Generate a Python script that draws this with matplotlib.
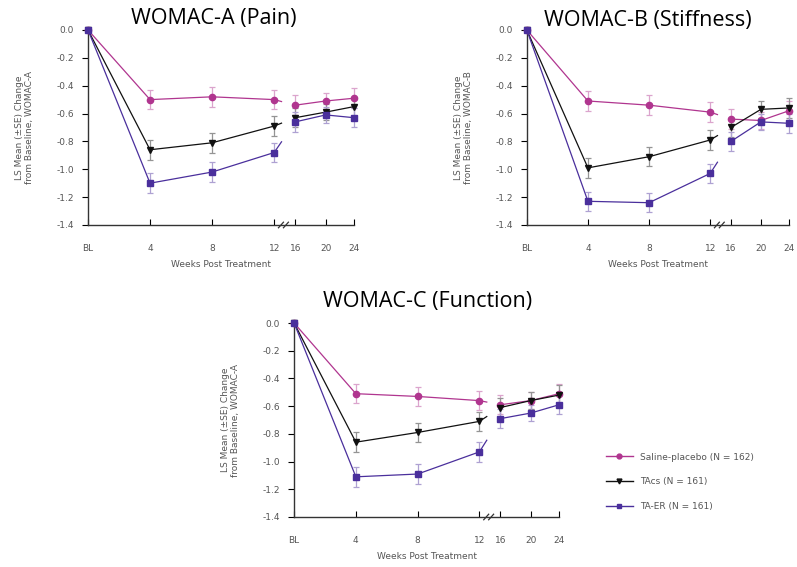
import numpy as np
import matplotlib.pyplot as plt
import matplotlib.colors as mcolors
from matplotlib.lines import Line2D

# ______________________ datos ______________________

weeks = ['BL', '4', '8', '12', '16', '20', '24']
# posicion en el eje (eje roto entre 12 y 16)
xpos = [0, 1, 2, 3, 3.34, 3.83, 4.29]

series = ['Saline-placebo (N = 162)', 'TAcs (N = 161)', 'TA-ER (N = 161)']

pain_placebo = [0.0, -0.50, -0.48, -0.50, -0.54, -0.51, -0.49]
pain_tacs = [0.0, -0.86, -0.81, -0.69, -0.63, -0.59, -0.55]
pain_taer = [0.0, -1.10, -1.02, -0.88, -0.66, -0.61, -0.63]

stiff_placebo = [0.0, -0.51, -0.54, -0.59, -0.64, -0.65, -0.58]
stiff_tacs = [0.0, -0.99, -0.91, -0.79, -0.70, -0.57, -0.56]
stiff_taer = [0.0, -1.23, -1.24, -1.03, -0.80, -0.66, -0.67]

func_placebo = [0.0, -0.51, -0.53, -0.56, -0.59, -0.56, -0.51]
func_tacs = [0.0, -0.86, -0.79, -0.71, -0.61, -0.56, -0.52]
func_taer = [0.0, -1.11, -1.09, -0.93, -0.69, -0.65, -0.59]

se = [0.0, 0.07, 0.07, 0.07, 0.07, 0.06, 0.07]

yticks = [0.0, -0.2, -0.4, -0.6, -0.8, -1.0, -1.2, -1.4]
ytick_labels = ['0.0', '-0.2', '-0.4', '-0.6', '-0.8', '-1.0', '-1.2', '-1.4']

colores = ['#b0358f', '#111111', '#4a2f9c']
marcadores = ['o', 'v', 's']
gris = '#555555'


def aclarar(c, f=0.55):
    r, g, b = mcolors.to_rgb(c)
    return (r + (1 - r) * f, g + (1 - g) * f, b + (1 - b) * f)


def graficar_panel(ax, datos, ylab):
    for vals, c, m in zip(datos, colores, marcadores):
        x = np.array(xpos)
        y = np.array(vals)
        e = np.array(se)
        # tramo 1: BL-12, tramo 2: 16-24
        for sl in (slice(0, 4), slice(4, 7)):
            ax.errorbar(x[sl], y[sl], yerr=e[sl], fmt='none', ecolor=aclarar(c),
                        elinewidth=0.9, capsize=2.5, capthick=0.9,
                        clip_on=False, zorder=2)
            ax.plot(x[sl], y[sl], color=c, marker=m, ms=4.5, lw=0.9,
                    clip_on=False, zorder=3)
        # pequeno tramo hacia el corte
        f = 0.35
        ax.plot([x[3], x[3] + f * (x[4] - x[3])], [y[3], y[3] + f * (y[4] - y[3])],
                color=c, lw=0.9, clip_on=False)
    ax.set_ylim(-1.4, 0.0)
    ax.set_xlim(0, xpos[-1])
    ax.set_yticks(yticks)
    ax.set_yticklabels(ytick_labels)
    ax.set_xticks(xpos)
    ax.set_xticklabels(weeks)
    for s in ['top', 'right']:
        ax.spines[s].set_visible(False)
    for s in ['left', 'bottom']:
        ax.spines[s].set_color('#333333')
        ax.spines[s].set_linewidth(1.0)
    ax.tick_params(axis='y', direction='out', length=4, labelsize=6.5,
                   labelcolor=gris, pad=6)
    ax.tick_params(axis='x', direction='in', length=4, labelsize=6.5,
                   labelcolor=gris, pad=14)
    ax.set_xlabel('Weeks Post Treatment', fontsize=6.5, color=gris, labelpad=5)
    ax.set_ylabel('LS Mean (\u00b1SE) Change\nfrom Baseline, ' + ylab,
                  fontsize=6.5, color=gris, labelpad=16)
    # marca de eje roto
    xb = 3.15
    for d in (-0.04, 0.04):
        ax.plot([xb + d - 0.04, xb + d + 0.04], [-1.42, -1.38], color='#333333',
                lw=0.9, clip_on=False, zorder=4)


fig = plt.figure(figsize=(7.97, 5.67), dpi=100)

ax1 = fig.add_axes([0.1104, 0.6032, 0.334, 0.344])
ax2 = fig.add_axes([0.661, 0.6032, 0.329, 0.344])
ax3 = fig.add_axes([0.369, 0.0882, 0.3325, 0.3421])

graficar_panel(ax1, [pain_placebo, pain_tacs, pain_taer], 'WOMAC-A')
graficar_panel(ax2, [stiff_placebo, stiff_tacs, stiff_taer], 'WOMAC-B')
graficar_panel(ax3, [func_placebo, func_tacs, func_taer], 'WOMAC-A')

fig.text(0.268, 0.957, 'WOMAC-A (Pain)', ha='center', va='baseline', fontsize=15.5,
         family='Open Sans')
fig.text(0.813, 0.955, 'WOMAC-B (Stiffness)', ha='center', va='baseline', fontsize=15.5,
         family='Open Sans')
fig.text(0.536, 0.459, 'WOMAC-C (Function)', ha='center', va='baseline', fontsize=15.5,
         family='Open Sans')

handles = [Line2D([0], [0], color=c, marker=m, ms=3.5, lw=1.0)
           for c, m in zip(colores, marcadores)]
fig.legend(handles, series, loc='center left', bbox_to_anchor=(0.75, 0.15),
           frameon=False, fontsize=6.5, labelcolor=gris, labelspacing=1.75,
           handlelength=3.0, handletextpad=0.8)

fig.savefig('out.png', dpi=100)
